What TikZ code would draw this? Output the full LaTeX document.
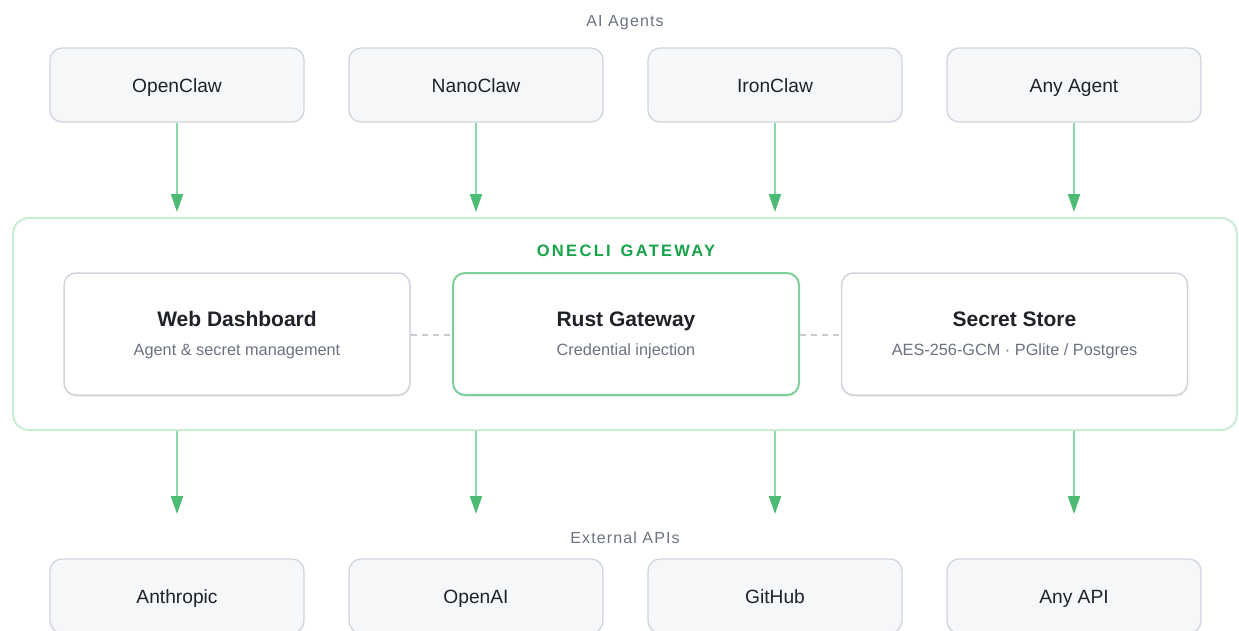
\documentclass[tikz,border=0pt]{standalone}
\usepackage{fontspec}
\setmainfont{Liberation Sans}
\newfontfamily\spacedfont[LetterSpace=7]{Liberation Sans}
\newfontfamily\widefont[LetterSpace=14]{Liberation Sans}
\usetikzlibrary{arrows.meta,shadows}
\definecolor{txt}{HTML}{1F2328}
\definecolor{subtxt}{HTML}{6B7280}
\definecolor{boxfill}{HTML}{F6F7F9}
\definecolor{boxline}{HTML}{D0D5DD}
\definecolor{gwline}{HTML}{C8ECD6}
\definecolor{gwgreen}{HTML}{16A34A}
\definecolor{rustline}{HTML}{7FCF9C}
\definecolor{arrline}{HTML}{8ED8AA}
\definecolor{arrhead}{HTML}{4CBB74}
\definecolor{dashcol}{HTML}{C8CCD2}
\tikzset{
  agentbox/.style={draw=boxline, fill=boxfill, line width=1.3pt, rounded corners=12pt,
    minimum width=254pt, minimum height=74pt, inner sep=0pt, text=txt,
    text height=15.7pt, text depth=0pt,
    font=\fontsize{19.2}{22}\selectfont},
  innerbox/.style={draw=boxline, fill=white, line width=1.5pt, rounded corners=12pt,
    minimum width=346pt, minimum height=122pt, inner sep=0pt,
    drop shadow={shadow xshift=0pt, shadow yshift=-2pt, opacity=0.06, fill=black}},
  rustbox/.style={innerbox, draw=rustline, line width=2pt},
  titletext/.style={text=txt, font=\bfseries\fontsize{21}{24}\selectfont, inner sep=0pt,
    text height=15pt, text depth=0pt},
  subtext/.style={text=subtxt, font=\fontsize{16.3}{19}\selectfont, inner sep=0pt,
    text height=11.7pt, text depth=0pt},
  sectiontext/.style={text=subtxt, font=\spacedfont\fontsize{16}{19}\selectfont, inner sep=0pt,
    text height=11.5pt, text depth=0pt},
  flow/.style={draw=arrline, line width=2pt, -{Triangle[width=12pt,length=18pt,color=arrhead]}},
  linkline/.style={draw=dashcol, line width=1.5pt, dash pattern=on 6pt off 5pt},
}
\begin{document}
\begin{tikzpicture}[x=1pt,y=-1pt]
\useasboundingbox (0,0) rectangle (1239,630);
\begin{scope}
\clip (0,0) rectangle (1239,630);
% section labels
\node[sectiontext] (lblagents) at (625,21) {AI Agents};
\node[sectiontext] (lblapis) at (625,538) {External APIs};
% agents
\node[agentbox] (a1) at (177,85) {OpenClaw};
\node[agentbox] (a2) at (476,85) {NanoClaw};
\node[agentbox] (a3) at (775,85) {IronClaw};
\node[agentbox] (a4) at (1074,85) {Any Agent};
% gateway container
\node[draw=gwline, fill=white, line width=2pt, rounded corners=16pt,
  minimum width=1224pt, minimum height=212pt, inner sep=0pt] (gw) at (625,324) {};
\node[text=gwgreen, font=\widefont\bfseries\fontsize{16.5}{19}\selectfont, inner sep=0pt,
  text height=11.8pt, text depth=0pt] (gwtitle) at (626,251) {ONECLI\hspace{3pt} GATEWAY};
% inner boxes
\node[innerbox] (web) at (237,334) {};
\node[rustbox] (rust) at (626,334) {};
\node[innerbox] (store) at (1014.5,334) {};
\node[titletext] (webt) at (237,319) {Web Dashboard};
\node[subtext] (webs) at (237,350) {Agent \& secret management};
\node[titletext] (rustt) at (626,319) {Rust Gateway};
\node[subtext] (rusts) at (626,350) {Credential injection};
\node[titletext] (storet) at (1014.5,319) {Secret Store};
\node[subtext] (stores) at (1014.5,350) {AES-256-GCM · PGlite / Postgres};
% dashed links
\draw[linkline] ([yshift=-1pt]web.east) -- ([yshift=-1pt]rust.west);
\draw[linkline] ([yshift=-1pt]rust.east) -- ([yshift=-1pt]store.west);
% APIs
\node[agentbox] (p1) at (177,596) {Anthropic};
\node[agentbox] (p2) at (476,596) {OpenAI};
\node[agentbox] (p3) at (775,596) {GitHub};
\node[agentbox] (p4) at (1074,596) {Any API};
% arrow ends
\foreach \i/\x in {1/177,2/476,3/775,4/1074}{
  \coordinate (in\i) at (\x,212);
  \coordinate (out\i) at (\x,514);
}
\foreach \i in {1,2,3,4}{
  \draw[flow] (a\i.south) -- (in\i);
  \draw[flow] (a\i |- gw.south) -- (out\i);
}
\end{scope}
\end{tikzpicture}
\end{document}
